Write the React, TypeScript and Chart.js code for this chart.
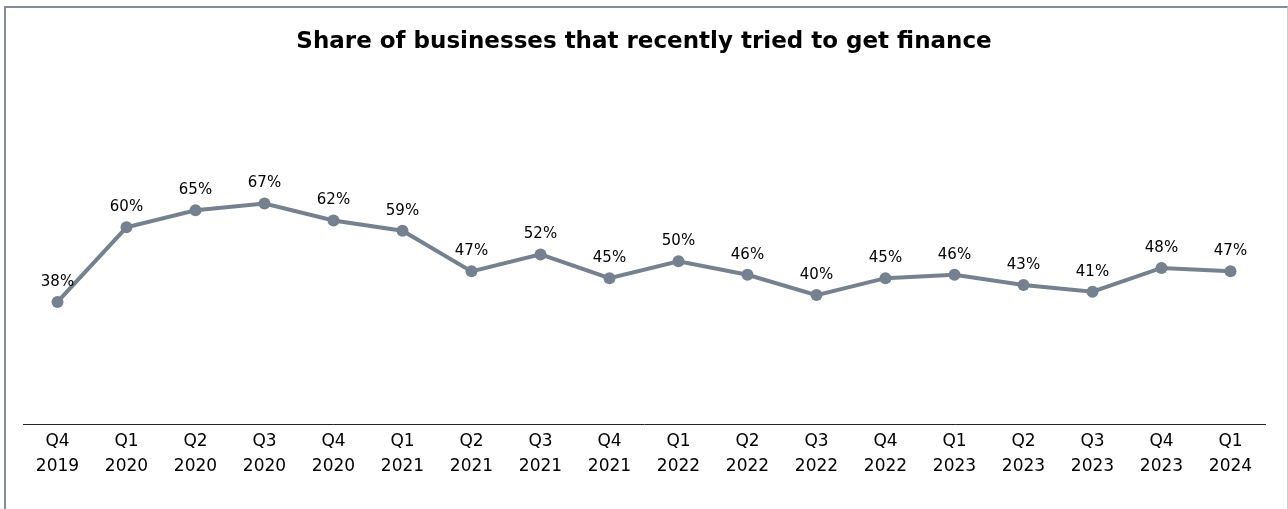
import React, { useEffect, useRef } from "react";
import { Chart, registerables } from "chart.js";

Chart.register(...registerables);

const quarters = ["Q4", "Q1", "Q2", "Q3", "Q4", "Q1", "Q2", "Q3", "Q4", "Q1", "Q2", "Q3", "Q4", "Q1", "Q2", "Q3", "Q4", "Q1"];
const years = ["2019", "2020", "2020", "2020", "2020", "2021", "2021", "2021", "2021", "2022", "2022", "2022", "2022", "2023", "2023", "2023", "2023", "2024"];
const shares = [38, 60, 65, 67, 62, 59, 47, 52, 45, 50, 46, 40, 45, 46, 43, 41, 48, 47];

const TITLE = "Share of businesses that recently tried to get finance";
const LINE_COLOR = "#75818e";
const FONT = "'DejaVu Sans', sans-serif";

export default function App() {
  const canvasRef = useRef<HTMLCanvasElement | null>(null);

  useEffect(() => {
    if (!canvasRef.current) return;
    const labelPlugin = {
      id: "pointLabels",
      afterDatasetsDraw(chart: any) {
        const ctx = chart.ctx;
        const meta = chart.getDatasetMeta(0);
        ctx.save();
        ctx.font = `15px ${FONT}`;
        ctx.fillStyle = "#000";
        ctx.textAlign = "center";
        ctx.textBaseline = "middle";
        meta.data.forEach((pt: any, i: number) => {
          ctx.fillText(`${shares[i]}%`, pt.x, pt.y - 20);
        });
        ctx.restore();
      },
    };
    const chart = new Chart(canvasRef.current, {
      type: "line",
      data: {
        labels: quarters.map((q, i) => [q, years[i]]),
        datasets: [
          {
            data: shares,
            borderColor: LINE_COLOR,
            backgroundColor: LINE_COLOR,
            borderWidth: 4,
            pointRadius: 6,
            pointBorderWidth: 0,
            pointBackgroundColor: LINE_COLOR,
            tension: 0,
          },
        ],
      },
      options: {
        animation: false,
        responsive: true,
        maintainAspectRatio: false,
        layout: { padding: { left: 17, right: 22, top: 0, bottom: 34 } },
        plugins: {
          legend: { display: false },
          tooltip: { enabled: false },
          title: {
            display: true,
            text: TITLE,
            color: "#000",
            font: { family: FONT, size: 23, weight: "bold", lineHeight: 1.2 },
            padding: { top: 20, bottom: 36 },
          },
        },
        scales: {
          x: {
            type: "category",
            offset: true,
            grid: { display: false, drawTicks: false },
            border: { display: true, color: "#222", width: 1 },
            ticks: {
              color: "#000",
              padding: 5,
              maxRotation: 0,
              autoSkip: false,
              font: { family: FONT, size: 17, lineHeight: 25 / 17 },
            },
          },
          y: {
            display: false,
            min: 2,
            max: 100,
          },
        },
      },
      plugins: [labelPlugin],
    });
    return () => chart.destroy();
  }, []);

  return (
    <div
      style={{
        position: "fixed",
        left: 4,
        top: 6,
        width: 1281,
        height: 510,
        borderTop: "2px solid #838d98",
        borderLeft: "2px solid #838d98",
        borderRight: "1px solid #c9ced3",
        background: "#fff",
      }}
    >
      <div style={{ position: "relative", width: 1281, height: 510 }}>
        <canvas ref={canvasRef} />
      </div>
    </div>
  );
}
